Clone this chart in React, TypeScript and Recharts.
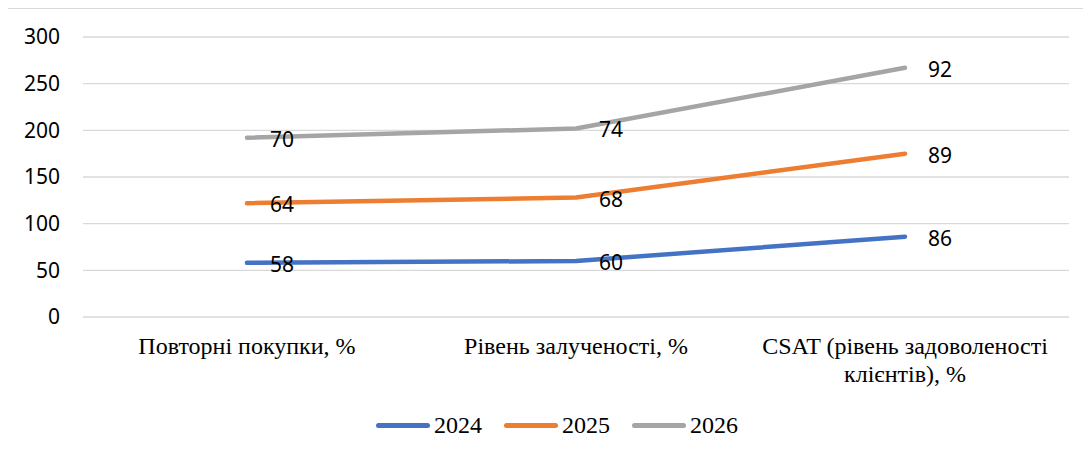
import { Area, AreaChart, CartesianGrid, LabelList, Legend, XAxis, YAxis } from "recharts";

const categories = [
    "Повторні покупки, %",
    "Рівень залученості, %",
    "CSAT (рівень задоволеності клієнтів), %",
];
const values2024 = [58, 60, 86];
const values2025 = [64, 68, 89];
const values2026 = [70, 74, 92];
const yTicks = [0, 50, 100, 150, 200, 250, 300];

const series = [
    { key: "y2024", name: "2024", color: "#4472C4" },
    { key: "y2025", name: "2025", color: "#ED7D31" },
    { key: "y2026", name: "2026", color: "#A5A5A5" },
];

const rows = categories.map((name, i) => ({
    name,
    y2024: values2024[i],
    y2025: values2025[i],
    y2026: values2026[i],
}));

const SANS = "'Noto Sans', sans-serif";
const SERIF = "'Liberation Serif', 'Times New Roman', serif";

// split long category names into lines of at most 27 chars
function wrap(text: string, max = 27) {
    const lines: string[] = [];
    let cur = "";
    for (const word of text.split(" ")) {
        const next = cur ? cur + " " + word : word;
        if (next.length > max && cur) {
            lines.push(cur);
            cur = word;
        } else {
            cur = next;
        }
    }
    if (cur) lines.push(cur);
    return lines;
}

function CategoryTick({ x, y, payload }: any) {
    const lines = wrap(String(payload.value));
    return (
        <text
            x={x}
            y={y}
            textAnchor="middle"
            fontFamily={SERIF}
            fontSize={24}
            fill="#000"
        >
            {lines.map((line, i) => (
                <tspan key={i} x={x} dy={i === 0 ? 29 : 28}>
                    {line}
                </tspan>
            ))}
        </text>
    );
}

function ValueLabel({ x, y, value }: any) {
    return (
        <text
            x={x + 23}
            y={y + 1}
            dominantBaseline="central"
            fontFamily={SANS}
            fontSize={21}
            fill="#000"
        >
            {value}
        </text>
    );
}

function LegendContent() {
    return (
        <div
            style={{
                display: "flex",
                justifyContent: "center",
                alignItems: "center",
                gap: 22,
                paddingLeft: 10,
            }}
        >
            {series.map((s) => (
                <div key={s.key} style={{ display: "flex", alignItems: "center" }}>
                    <div
                        style={{
                            width: 54,
                            height: 5,
                            borderRadius: 3,
                            background: s.color,
                            marginRight: 4,
                        }}
                    />
                    <span style={{ fontFamily: SERIF, fontSize: 24, color: "#000" }}>
                        {s.name}
                    </span>
                </div>
            ))}
        </div>
    );
}

export default function App() {
    return (
        <div
            style={{
                marginLeft: -2,
                width: 1095,
                height: 460,
                border: "1px solid #d9d9d9",
                boxSizing: "border-box",
            }}
        >
            <AreaChart
                width={1090}
                height={450}
                data={rows}
                margin={{ top: 28, right: 28, left: 0, bottom: 82 }}
            >
                <CartesianGrid vertical={false} stroke="#d9d9d9" strokeWidth={1.3} />
                <XAxis
                    dataKey="name"
                    axisLine={false}
                    tickLine={false}
                    padding={{ left: 164, right: 164 }}
                    interval={0}
                    tick={<CategoryTick />}
                    height={60}
                />
                <YAxis
                    width={76}
                    domain={[0, 300]}
                    ticks={yTicks}
                    axisLine={false}
                    tickLine={false}
                    tickMargin={17}
                    tick={{ fontFamily: SANS, fontSize: 21, fill: "#000" }}
                />
                <Legend
                    verticalAlign="middle"
                    align="center"
                    content={<LegendContent />}
                    wrapperStyle={{ top: 403, left: 0, width: 1090 }}
                />
                {series.map((s) => (
                    <Area
                        key={s.key}
                        type="linear"
                        dataKey={s.key}
                        name={s.name}
                        stackId="total"
                        stroke={s.color}
                        strokeWidth={4.5}
                        strokeLinecap="round"
                        strokeLinejoin="round"
                        fill="none"
                        fillOpacity={0}
                        dot={false}
                        activeDot={false}
                        isAnimationActive={false}
                    >
                        <LabelList dataKey={s.key} content={<ValueLabel />} />
                    </Area>
                ))}
            </AreaChart>
        </div>
    );
}
